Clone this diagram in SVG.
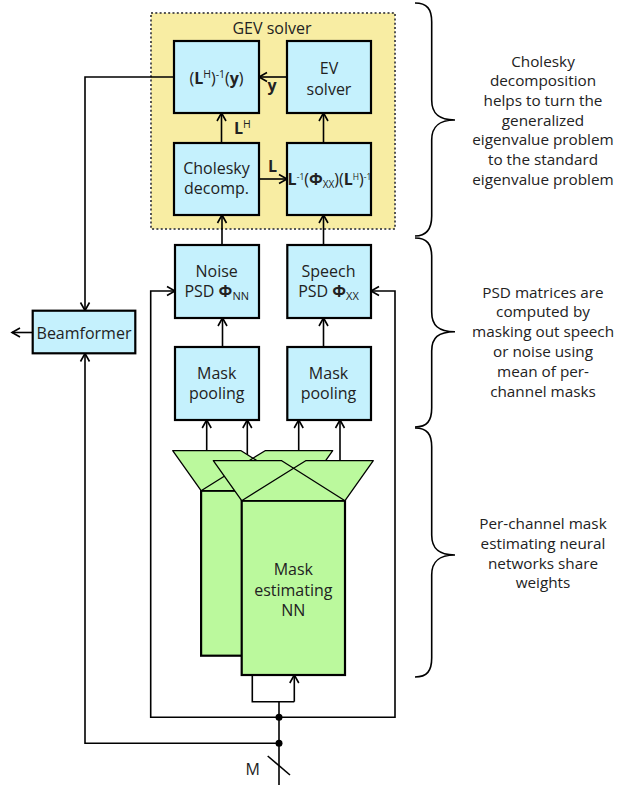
<svg xmlns="http://www.w3.org/2000/svg" width="627" height="785" viewBox="0 0 627 785">
<defs>
<style>
.box{fill:#C5F1FD;stroke:#000;stroke-width:2.2}
.nnr{fill:#BBF99D;stroke:#000;stroke-width:2.2}
.nnt{fill:#BBF99D;stroke:#000;stroke-width:1.3;stroke-linejoin:round}
.thin{fill:none;stroke:#000;stroke-width:1.3}
.t{font-family:"Open Sans","Noto Sans",sans-serif;font-size:16px;fill:#222;text-anchor:middle}
.a{font-family:"Open Sans","Noto Sans",sans-serif;font-size:15.3px;fill:#222;text-anchor:middle}
.c{fill:none;stroke:#000;stroke-width:1.6}
.ar{marker-end:url(#ah)}
.br{fill:none;stroke:#000;stroke-width:1.6}
</style>
<marker id="ah" markerUnits="userSpaceOnUse" markerWidth="12" markerHeight="12" refX="8" refY="4.5" orient="auto" overflow="visible">
<path d="M0,0 L8,4.5 L0,9" fill="none" stroke="#000" stroke-width="1.6"/>
</marker>
</defs>
<rect width="627" height="785" fill="#fff"/>

<g id="gev">
<rect x="151" y="13" width="244" height="216" fill="#F8EDA3" stroke="#555" stroke-width="2" stroke-dasharray="2 2.3"/>
<text class="t" x="272" y="34">GEV solver</text>
</g>

<g id="connectors">
<path class="c ar" d="M287,77 H259"/>
<path class="c ar" d="M221.5,143 V113"/>
<path class="c ar" d="M323.5,143 V113"/>
<path class="c ar" d="M259,179 H287"/>
<path class="c ar" d="M222,245 V215"/>
<path class="c ar" d="M323.5,245 V215"/>
<path class="c ar" d="M222.5,347 V318"/>
<path class="c ar" d="M323.5,347 V318"/>
<path class="c ar" d="M206.7,450.7 V420"/>
<path class="c ar" d="M247.3,460.7 V420"/>
<path class="c ar" d="M298.7,450.7 V420"/>
<path class="c ar" d="M340,460.7 V420"/>
<path class="c ar" d="M174,77 H85 V310.5"/>
<path class="c ar" d="M32.7,332.5 H12"/>
<path class="c" d="M279,785 V701.7"/>
<path class="c" d="M252.3,675 V701.7 H294.3"/>
<path class="c ar" d="M294.3,701.7 V675"/>
<path class="c ar" d="M279,717.3 H150.7 V291 H175"/>
<path class="c ar" d="M279,717.3 H395 V291 H371"/>
<path class="c ar" d="M279,743.3 H85 V353.5"/>
<circle cx="279" cy="717.3" r="3.5" fill="#000"/>
<circle cx="279" cy="743.3" r="3.5" fill="#000"/>
<path class="c" d="M267.7,756 L290,775"/>
<text class="t" x="252.7" y="775">M</text>
</g>

<g id="inv">
<rect class="box" x="174" y="41" width="85" height="72"/>
<text class="t" x="216.5" y="84">(<tspan font-weight="bold">L</tspan><tspan font-size="10.5" dy="-6">H</tspan><tspan dy="6">)</tspan><tspan font-size="10.5" dy="-6">-1</tspan><tspan dy="6">(</tspan><tspan font-weight="bold">y</tspan>)</text>
</g>
<g id="ev">
<rect class="box" x="287" y="41" width="84" height="72"/>
<text class="t" x="329" y="74">EV</text>
<text class="t" x="329" y="94.5">solver</text>
</g>
<text class="t" x="272" y="91" font-weight="bold">y</text>
<text class="t" x="234" y="134" style="text-anchor:start"><tspan font-weight="bold">L</tspan><tspan font-size="10.5" dy="-6">H</tspan></text>
<text class="t" x="272.5" y="171.5" font-weight="bold">L</text>

<g id="chol">
<rect class="box" x="174" y="143" width="85" height="72"/>
<text class="t" x="216.5" y="174">Cholesky</text>
<text class="t" x="216.5" y="194">decomp.</text>
</g>
<g id="transform">
<rect class="box" x="287" y="143" width="84" height="72"/>
<text class="t" x="329.5" y="185" font-size="13"><tspan font-weight="bold">L</tspan><tspan font-size="8.5" dy="-5">-1</tspan><tspan dy="5">(</tspan><tspan font-weight="bold">Φ</tspan><tspan font-size="10" dy="2.5">XX</tspan><tspan dy="-2.5">)(</tspan><tspan font-weight="bold">L</tspan><tspan font-size="8.5" dy="-5">H</tspan><tspan dy="5">)</tspan><tspan font-size="8.5" dy="-5">-1</tspan></text>
</g>

<g id="noise_psd">
<rect class="box" x="175" y="245" width="84" height="73"/>
<text class="t" x="216.7" y="276.7">Noise</text>
<text class="t" x="216.7" y="297.3">PSD <tspan font-weight="bold">Φ</tspan><tspan font-size="11" dy="3">NN</tspan></text>
</g>
<g id="speech_psd">
<rect class="box" x="287.3" y="245" width="83.7" height="73"/>
<text class="t" x="328.5" y="276.7">Speech</text>
<text class="t" x="328.5" y="297.3">PSD <tspan font-weight="bold">Φ</tspan><tspan font-size="11" dy="3">XX</tspan></text>
</g>
<g id="pool_noise">
<rect class="box" x="175" y="347" width="84" height="73"/>
<text class="t" x="216.7" y="379">Mask</text>
<text class="t" x="216.7" y="399">pooling</text>
</g>
<g id="pool_speech">
<rect class="box" x="287.3" y="347" width="83.7" height="73"/>
<text class="t" x="328.5" y="379">Mask</text>
<text class="t" x="328.5" y="399">pooling</text>
</g>
<g id="beamformer">
<rect class="box" x="32.7" y="310.7" width="102.6" height="42.6"/>
<text class="t" x="84" y="338.5">Beamformer</text>
</g>

<g id="nn_back" transform="translate(-40.6,-10)">
<rect class="nnr" x="241.7" y="500.7" width="103.3" height="165"/>
<polygon class="nnt" points="213.3,460.7 281.7,460.7 293.6,468.2 305.7,460.7 373.3,460.7 345,500.7 241.7,500.7"/>
<path class="thin" d="M293.6,468.2 L241.7,500.7 M293.6,468.2 L345,500.7"/>
</g>
<g id="nn_front">
<rect class="nnr" x="241.7" y="500.7" width="103.3" height="174.3"/>
<polygon class="nnt" points="213.3,460.7 281.7,460.7 293.6,468.2 305.7,460.7 373.3,460.7 345,500.7 241.7,500.7"/>
<path class="thin" d="M293.6,468.2 L241.7,500.7 M293.6,468.2 L345,500.7"/>
<text class="t" x="293.3" y="575">Mask</text>
<text class="t" x="293.3" y="595.5">estimating</text>
<text class="t" x="293.3" y="616">NN</text>
</g>

<g id="note_gev">
<path class="br" d="M415,3 C427,3 431.7,9 431.7,22 V100 C431.7,113 438,120 455,120 C438,120 431.7,127 431.7,140 V216 C431.7,229 427,236 415,236"/>
<text class="a" x="543" y="66.5">Cholesky</text>
<text class="a" x="543" y="86.2">decomposition</text>
<text class="a" x="543" y="105.9">helps to turn the</text>
<text class="a" x="543" y="125.6">generalized</text>
<text class="a" x="543" y="145.3">eigenvalue problem</text>
<text class="a" x="543" y="165">to the standard</text>
<text class="a" x="543" y="184.7">eigenvalue problem</text>
</g>
<g id="note_psd">
<path class="br" d="M415,238 C427,238 431.7,244 431.7,257 V312 C431.7,325 438,331.7 455,331.7 C438,331.7 431.7,338 431.7,351 V408 C431.7,421 427,427 415,427"/>
<text class="a" x="543" y="297.5">PSD matrices are</text>
<text class="a" x="543" y="317.4">computed by</text>
<text class="a" x="543" y="337.2">masking out speech</text>
<text class="a" x="543" y="357.1">or noise using</text>
<text class="a" x="543" y="376.9">mean of per-</text>
<text class="a" x="543" y="396.8">channel masks</text>
</g>
<g id="note_nn">
<path class="br" d="M415,428 C427,428 431.7,434 431.7,447 V535 C431.7,548 438,555 455,555 C438,555 431.7,562 431.7,575 V658 C431.7,671 427,677 415,677"/>
<text class="a" x="543" y="529">Per-channel mask</text>
<text class="a" x="543" y="548.8">estimating neural</text>
<text class="a" x="543" y="568.6">networks share</text>
<text class="a" x="543" y="588.4">weights</text>
</g>
</svg>
